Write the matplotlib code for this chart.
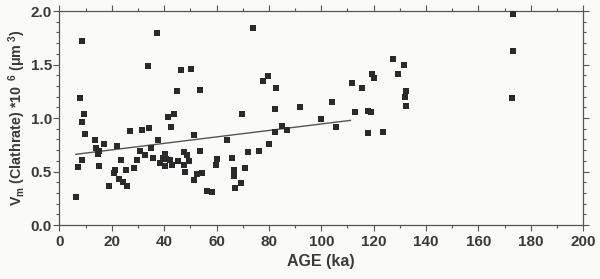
import matplotlib
matplotlib.use('Agg')
import matplotlib.pyplot as plt
from matplotlib.ticker import MultipleLocator, FormatStrFormatter

# age (ka) and clathrate volume (x 10^6 um^3)
age = [8.8, 37.2, 33.9, 46.4, 50.3, 7.9, 9.5, 8.6, 9.9, 44.9,
       53.5, 41.6, 43.9, 42.8, 27.1, 31.5, 34.3, 37.7, 51.4, 13.5,
       14.0, 15.3, 14.8, 16.9, 8.5, 7.0, 15.1, 6.2, 21.9, 23.7,
       30.8, 32.6, 34.9, 35.7, 29.7, 28.4, 25.4, 21.4, 20.9, 22.9,
       24.4, 26.0, 19.0, 38.6, 40.3, 39.7, 40.8, 42.3, 40.5, 42.9,
       45.2, 47.5, 48.7, 49.6, 47.6, 48.0, 51.4, 52.5, 53.5,
       74.1, 77.9, 79.5, 82.6, 69.7, 82.2, 92.0, 99.7, 64.0, 82.2,
       85.0, 87.0, 80.0, 66.0, 60.3, 59.9, 72.1, 76.2, 70.9, 66.7,
       66.7, 69.2, 67.2, 54.4, 56.4, 58.1,
       127.2, 131.4, 129.2, 119.4, 120.3, 111.8, 115.4, 132.4, 131.8, 132.2,
       104.0, 112.9, 117.9, 118.8, 105.8, 117.7, 123.7,
       173.1, 173.3, 172.8]
volume = [1.72, 1.79, 1.49, 1.45, 1.46, 1.19, 1.04, 0.96, 0.85, 1.25,
          1.26, 1.01, 1.04, 0.92, 0.88, 0.89, 0.91, 0.79, 0.84, 0.79,
          0.72, 0.69, 0.66, 0.76, 0.61, 0.54, 0.55, 0.26, 0.74, 0.61,
          0.69, 0.65, 0.72, 0.63, 0.61, 0.53, 0.51, 0.51, 0.49, 0.43,
          0.40, 0.36, 0.36, 0.58, 0.66, 0.63, 0.62, 0.61, 0.55, 0.56,
          0.60, 0.68, 0.65, 0.60, 0.56, 0.50, 0.42, 0.48, 0.69,
          1.84, 1.35, 1.39, 1.28, 1.04, 1.08, 1.10, 0.99, 0.79, 0.87,
          0.93, 0.89, 0.76, 0.63, 0.62, 0.56, 0.68, 0.69, 0.53, 0.51,
          0.46, 0.39, 0.35, 0.49, 0.32, 0.31,
          1.55, 1.50, 1.41, 1.41, 1.37, 1.33, 1.28, 1.25, 1.20, 1.11,
          1.15, 1.06, 1.07, 1.06, 0.92, 0.86, 0.87,
          1.97, 1.63, 1.19]

# regression line end points
fit_age = [6.3, 111.1]
fit_volume = [0.661, 0.978]

plt.rcParams['font.family'] = ['Liberation Sans', 'DejaVu Sans']
plt.rcParams['mathtext.fontset'] = 'custom'
plt.rcParams['mathtext.rm'] = 'Liberation Sans:bold'
plt.rcParams['mathtext.it'] = 'Liberation Sans:bold'
plt.rcParams['mathtext.bf'] = 'Liberation Sans:bold'
ink = '#3a3a3a'

fig = plt.figure(figsize=(6, 2.79), dpi=100, facecolor='#fafaf8')
ax = fig.add_axes([0.099, 0.1935, 0.873, 0.767], facecolor='#fafaf8')

ax.scatter(age, volume, marker='s', s=13, color='#2a2a2a', linewidths=0, zorder=3)
ax.plot(fit_age, fit_volume, color='#555555', linewidth=1.0)

ax.set_xlim(0, 200)
ax.set_ylim(0, 2.0)
ax.xaxis.set_major_locator(MultipleLocator(20))
ax.xaxis.set_minor_locator(MultipleLocator(10))
ax.yaxis.set_major_locator(MultipleLocator(0.5))
ax.yaxis.set_minor_locator(MultipleLocator(0.1))
ax.yaxis.set_major_formatter(FormatStrFormatter('%.1f'))

ax.tick_params(which='both', direction='out', top=True, right=True,
               color='#555555', width=0.8)
ax.tick_params(which='major', length=4, labelsize=11, labelcolor=ink, pad=3)
ax.tick_params(axis='y', which='major', pad=1.5)
ax.tick_params(which='minor', length=2.5)
for lab in ax.get_xticklabels() + ax.get_yticklabels():
    lab.set_fontweight('bold')
for sp in ax.spines.values():
    sp.set_color('#555555')
    sp.set_linewidth(0.9)

ax.set_xlabel('AGE (ka)', fontsize=11.5, fontweight='bold', color=ink, labelpad=4)
ax.set_ylabel(r'V$_{\mathrm{m}}$ (Clathrate) *10$^{\ \ 6}$ ($\mathrm{\mu}$m$^{\ 3}$)',
              fontsize=10.3, fontweight='bold', color=ink, labelpad=2)

fig.savefig('out.png', dpi=100, facecolor=fig.get_facecolor())
